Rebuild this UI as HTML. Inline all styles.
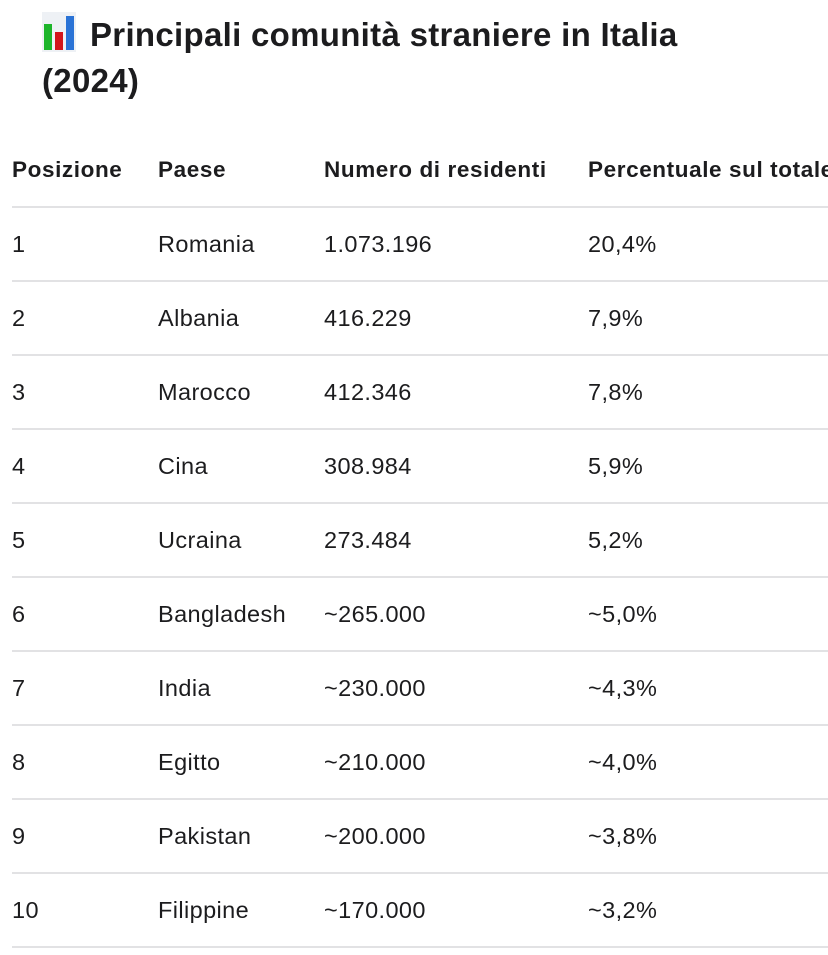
<!DOCTYPE html>
<html><head><meta charset="utf-8"><style>
body{margin:0;width:828px;height:955px;background:#fff;overflow:hidden;font-family:"Liberation Sans",sans-serif;color:#1c1c1e;position:relative}
.t{position:absolute;left:42px;font-size:33px;font-weight:bold;line-height:46px;letter-spacing:0.3px;white-space:nowrap}
.c{position:absolute;font-size:23.5px;white-space:nowrap;line-height:30px;letter-spacing:0.4px}
.h{font-weight:bold;font-size:22.5px;letter-spacing:0.6px}
.ln{position:absolute;left:12px;width:816px;height:2px;background:#e2e2e4}
</style></head><body>
<div class="t" style="top:12px"><span style="display:inline-block;position:relative;width:34px;height:40px;background:#eef1f5;vertical-align:-6px;margin-right:14px"><i style="position:absolute;left:2px;bottom:2px;width:8px;height:26px;background:#1db52a"></i><i style="position:absolute;left:13px;bottom:2px;width:8px;height:18px;background:#d2151b"></i><i style="position:absolute;left:24px;bottom:2px;width:8px;height:34px;background:#2a73d6"></i></span>Principali comunità straniere in Italia</div>
<div class="t" style="top:58px">(2024)</div>
<div id="tbl"></div>
<script>
const headers=["Posizione","Paese","Numero di residenti","Percentuale sul totale"];
const ranks=["1","2","3","4","5","6","7","8","9","10"];
const countries=["Romania","Albania","Marocco","Cina","Ucraina","Bangladesh","India","Egitto","Pakistan","Filippine"];
const residents=["1.073.196","416.229","412.346","308.984","273.484","~265.000","~230.000","~210.000","~200.000","~170.000"];
const percents=["20,4%","7,9%","7,8%","5,9%","5,2%","~5,0%","~4,3%","~4,0%","~3,8%","~3,2%"];
const tbl=document.getElementById('tbl');
const colX=[12,158,324,588];
function cell(txt,x,cy,cls,name){
  const d=document.createElement('div');
  d.className='c '+cls;d.textContent=txt;d.style.left=x+'px';d.style.top=(cy-15)+'px';
  
  
  tbl.appendChild(d);
}
function line(y,name){
  const l=document.createElement('div');l.className='ln';l.style.top=y+'px';
  
  
  tbl.appendChild(l);
}
headers.forEach((h,i)=>cell(h,colX[i],170,'h','header-'+i));
line(206,'header-border');
ranks.forEach((r,i)=>{
  const cy=244+74*i;
  cell(r,colX[0],cy,'','rank-'+r);
  cell(countries[i],colX[1],cy,'','country-'+r);
  cell(residents[i],colX[2],cy,'','residents-'+r);
  cell(percents[i],colX[3],cy,'','percent-'+r);
  line(280+74*i,'row-border-'+r);
});
</script>
</body></html>
